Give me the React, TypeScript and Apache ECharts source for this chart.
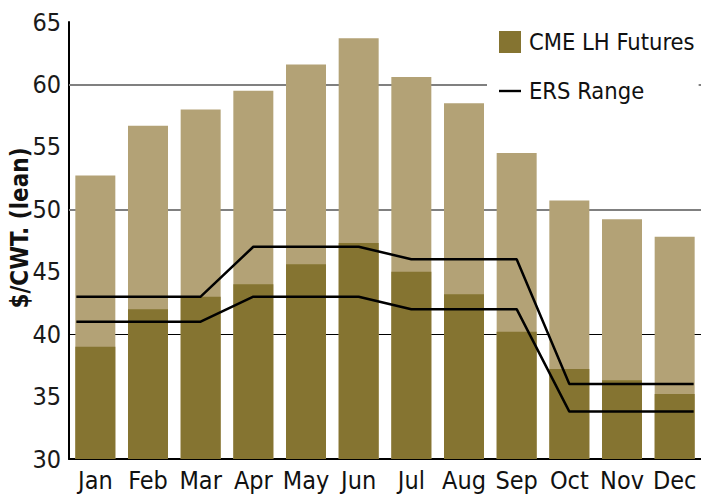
import React, { useEffect, useRef } from "react";
import * as echarts from "echarts";

const months = ["Jan", "Feb", "Mar", "Apr", "May", "Jun", "Jul", "Aug", "Sep", "Oct", "Nov", "Dec"];
const futuresHigh = [52.7, 56.7, 58.0, 59.5, 61.6, 63.7, 60.6, 58.5, 54.5, 50.7, 49.2, 47.8];
const futuresLow = [39.0, 42.0, 43.0, 44.0, 45.6, 47.3, 45.0, 43.2, 40.2, 37.2, 36.3, 35.2];
const ersUpper = [43, 43, 43, 47, 47, 47, 46, 46, 46, 36, 36, 36];
const ersLower = [41, 41, 41, 43, 43, 43, 42, 42, 42, 33.8, 33.8, 33.8];
const yTicks = { min: 30, max: 65, interval: 5 };
const gridValues = [40, 50, 60];

const FONT = "'DejaVu Sans Condensed', 'Liberation Sans Narrow', 'Arial Narrow', sans-serif";
const DARK = "#857431";
const LIGHT = "#b3a276";

function linePoints(vals: number[]): number[][] {
  const halfBar = 0.36;
  const pts: number[][] = [];
  pts.push([0.5 - halfBar, vals[0]]);
  vals.forEach((v, i) => pts.push([i + 0.5, v]));
  pts.push([vals.length - 0.5 + halfBar, vals[vals.length - 1]]);
  return pts;
}

export default function App() {
  const ref = useRef<HTMLDivElement>(null);
  useEffect(() => {
    if (!ref.current) return;
    const chart = echarts.init(ref.current, undefined, { renderer: "svg" });
    chart.setOption({
      animation: false,
      textStyle: { fontFamily: FONT },
      grid: { left: 69, right: -6, top: 22, bottom: 37, containLabel: false },
      legend: {
        left: 487,
        top: 24,
        orient: "vertical",
        padding: [6, 4, 6, 12],
        backgroundColor: "#ffffff",
        itemWidth: 22,
        itemHeight: 22,
        itemGap: 25,
        data: [
          { name: "CME LH Futures", icon: "rect" },
          { name: "ERS Range", icon: "path://M0,0L22,0L22,2.4L0,2.4Z", itemStyle: { color: "#000" } },
        ],
        textStyle: { fontFamily: FONT, fontSize: 23.5, color: "#111", padding: [0, 0, 0, 3] },
      },
      graphic: [
        {
          type: "text",
          x: 20,
          y: 228,
          rotation: Math.PI / 2,
          style: {
            text: "$/CWT. (lean)",
            font: `bold 24px ${FONT}`,
            fill: "#111",
            textAlign: "center",
            textVerticalAlign: "middle",
          },
        },
      ],
      xAxis: [
        {
          type: "category",
          data: months,
          axisLine: { lineStyle: { color: "#000", width: 2 } },
          axisTick: { show: false },
          axisLabel: { fontFamily: FONT, fontSize: 25, color: "#111", margin: 9, interval: 0 },
          splitLine: { show: false },
        },
        { type: "value", min: 0, max: 12, show: false, splitLine: { show: false } },
      ],
      yAxis: {
        type: "value",
        min: yTicks.min,
        max: yTicks.max,
        interval: yTicks.interval,
        axisLine: { show: true, lineStyle: { color: "#000", width: 2 } },
        axisTick: { show: false },
        splitLine: { show: false },
        axisLabel: { fontFamily: FONT, fontSize: 25, color: "#1a1a1a", margin: 8 },
      },
      series: [
        {
          name: "Futures range",
          type: "bar",
          data: futuresHigh,
          barWidth: 40,
          barGap: "-100%",
          itemStyle: { color: LIGHT },
          markLine: {
            z: 1,
            silent: true,
            symbol: "none",
            label: { show: false },
            data: gridValues.map((v) => ({
              yAxis: v,
              lineStyle: v === 40 ? { color: "#000", width: 1, type: "solid" } : { color: "#808080", width: 2, type: "solid" },
            })),
          },
        },
        {
          name: "CME LH Futures",
          type: "bar",
          data: futuresLow,
          barWidth: 40,
          barGap: "-100%",
          itemStyle: { color: DARK },
        },
        {
          name: "ERS Range",
          type: "line",
          xAxisIndex: 1,
          data: linePoints(ersUpper),
          symbol: "none",
          z: 3,
          lineStyle: { color: "#000", width: 2.5 },
          itemStyle: { color: "#000" },
        },
        {
          name: "ERS Range",
          type: "line",
          xAxisIndex: 1,
          data: linePoints(ersLower),
          symbol: "none",
          z: 3,
          lineStyle: { color: "#000", width: 2.5 },
          itemStyle: { color: "#000" },
        },
      ],
    });
    return () => chart.dispose();
  }, []);
  return <div ref={ref} style={{ width: 701, height: 496, position: "absolute", left: 0, top: 0 }} />;
}
